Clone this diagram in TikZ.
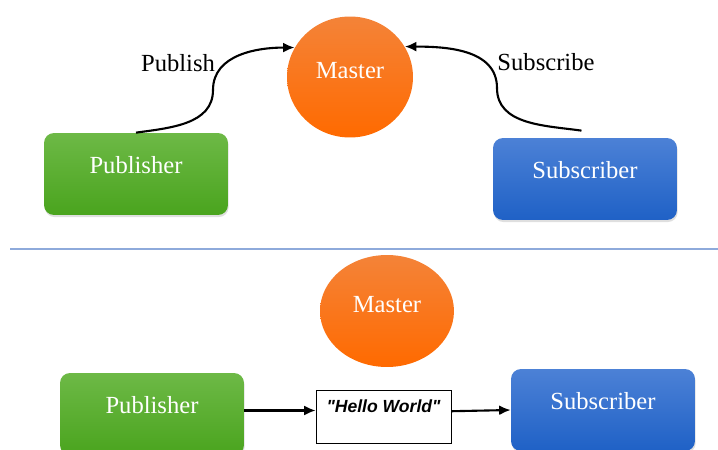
\documentclass[tikz,border=0pt]{standalone}
\usepackage{fontspec}
\setmainfont{Liberation Serif}
\newfontfamily\msgfont{Liberation Sans}
\usetikzlibrary{shapes.geometric,shadows,arrows.meta}
\definecolor{grtop}{HTML}{6DB946}
\definecolor{grbot}{HTML}{4AA41E}
\definecolor{bltop}{HTML}{4C81D6}
\definecolor{blbot}{HTML}{1F61C6}
\definecolor{ortop}{HTML}{F48338}
\definecolor{orbot}{HTML}{FF6A00}
\definecolor{sepline}{HTML}{8EAADB}
\tikzset{
  big text/.style={
    font=\fontsize{14}{16}\selectfont,
  },
  node box/.style={
    big text,
    rounded corners=0.2cm,
    minimum width=3.68cm,
    minimum height=1.64cm,
    text=white,
    text depth=0.38cm,
    drop shadow={opacity=0.25, shadow xshift=0.4pt, shadow yshift=-1.2pt},
  },
  green box/.style={
    node box,
    top color=grtop,
    bottom color=grbot,
  },
  blue box/.style={
    node box,
    top color=bltop,
    bottom color=blbot,
  },
  master ball/.style={
    big text,
    ellipse,
    text=white,
    text depth=0.26cm,
    top color=ortop,
    bottom color=orbot,
    inner sep=0pt,
  },
  msg box/.style={
    draw=black,
    fill=white,
    thin,
    minimum width=2.7cm,
    minimum height=1.06cm,
    text depth=0.42cm,
    font=\msgfont\fontsize{10}{12}\selectfont\bfseries\itshape,
  },
  flow/.style={
    -{Latex[length=2.3mm,width=2mm]},
    line width=1.2pt,
  },
}

\begin{document}
\begin{tikzpicture}[x=0.02cm,y=-0.02cm]
    \useasboundingbox (0,0) rectangle (718,450);
    \clip (0,0) rectangle (718,450);

    % top half
    \node [master ball, minimum width=2.52cm, minimum height=2.42cm] (mst1) at (350,77) {Master};
    \node [green box] (pub1) at (136,174) {Publisher};
    \node [blue box] (sub1) at (585,179) {Subscriber};

    \node [big text] (publab) at (178,63) {Publish};
    \node [big text] (sublab) at (546,62) {Subscribe};

    \draw [flow] (pub1.north) to[out=8,in=-90] (213,90) to[out=90,in=180] (mst1.152);
    \draw [flow] ([xshift=-2pt,yshift=4pt]sub1.north) to[out=172,in=-90] (497,88) to[out=90,in=0] (mst1.29);

    % separator
    \draw [sepline, line width=0.8pt] (10,249) -- (718,249);

    % bottom half
    \node [master ball, minimum width=2.68cm, minimum height=2.24cm] (mst2) at (387,311) {Master};
    \node [green box] (pub2) at (152,414) {Publisher};
    \node [blue box] (sub2) at (603,410) {Subscriber};
    \node [msg box] (msg) at (383.5,416.5) {"Hello World"};

    \draw [flow] ([yshift=2pt]pub2.east) -- ([yshift=2pt]pub2.east -| msg.west);
    \draw [flow] ([yshift=3pt]msg.east) -- (sub2.west);
\end{tikzpicture}
\end{document}
